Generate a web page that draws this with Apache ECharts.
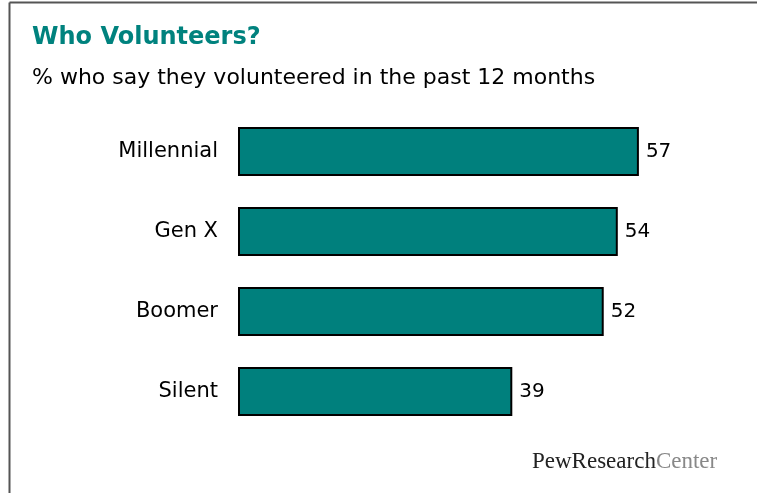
<!DOCTYPE html>
<html><head><meta charset="utf-8">
<script src="https://cdn.jsdelivr.net/npm/echarts@6/dist/echarts.min.js"></script>
<style>html,body{margin:0;padding:0;background:#fff}#c{width:757px;height:493px}</style>
</head><body><div id="c"></div>
<script>
const categories = ['Millennial', 'Gen X', 'Boomer', 'Silent'];
const values = [57, 54, 52, 39];
const titleText = 'Who Volunteers?';
const subtitleText = '% who say they volunteered in the past 12 months';

const chart = echarts.init(document.getElementById('c'), null, {renderer: 'canvas'});
chart.setOption({
  animation: false,
  backgroundColor: '#fff',
  title: {
    text: titleText,
    subtext: subtitleText,
    left: 27, top: 21,
    itemGap: 17,
    textStyle: {fontFamily: 'DejaVu Sans', fontWeight: 'bold', fontSize: 24, color: '#00827E'},
    subtextStyle: {fontFamily: 'DejaVu Sans', fontSize: 22, color: '#000'}
  },
  grid: {left: 238, top: 111.5, width: 422, height: 320, containLabel: false},
  xAxis: {type: 'value', min: 0, max: 60, show: false},
  yAxis: {
    type: 'category', data: categories, inverse: true,
    axisLine: {show: false}, axisTick: {show: false},
    axisLabel: {fontFamily: 'DejaVu Sans', fontSize: 21, color: '#000', margin: 20}
  },
  series: [{
    type: 'bar', data: values, barWidth: 49,
    itemStyle: {color: '#00807D', borderColor: '#000', borderWidth: 2},
    label: {show: true, position: 'right', distance: 7, fontFamily: 'DejaVu Sans', fontSize: 20, color: '#000'}
  }],
  graphic: [
    {type: 'line', shape: {x1: 9.5, y1: 2.5, x2: 9.5, y2: 493}, style: {stroke: '#555', lineWidth: 2}},
    {type: 'line', shape: {x1: 9.5, y1: 2.5, x2: 757, y2: 2.5}, style: {stroke: '#555', lineWidth: 2}},
    {type: 'text', left: 532, top: 450, style: {
      text: '{a|PewResearch}{b|Center}',
      rich: {
        a: {fontFamily: 'Liberation Serif', fontSize: 23, fill: '#222'},
        b: {fontFamily: 'Liberation Serif', fontSize: 23, fill: '#888'}
      }
    }}
  ]
});
</script></body></html>
